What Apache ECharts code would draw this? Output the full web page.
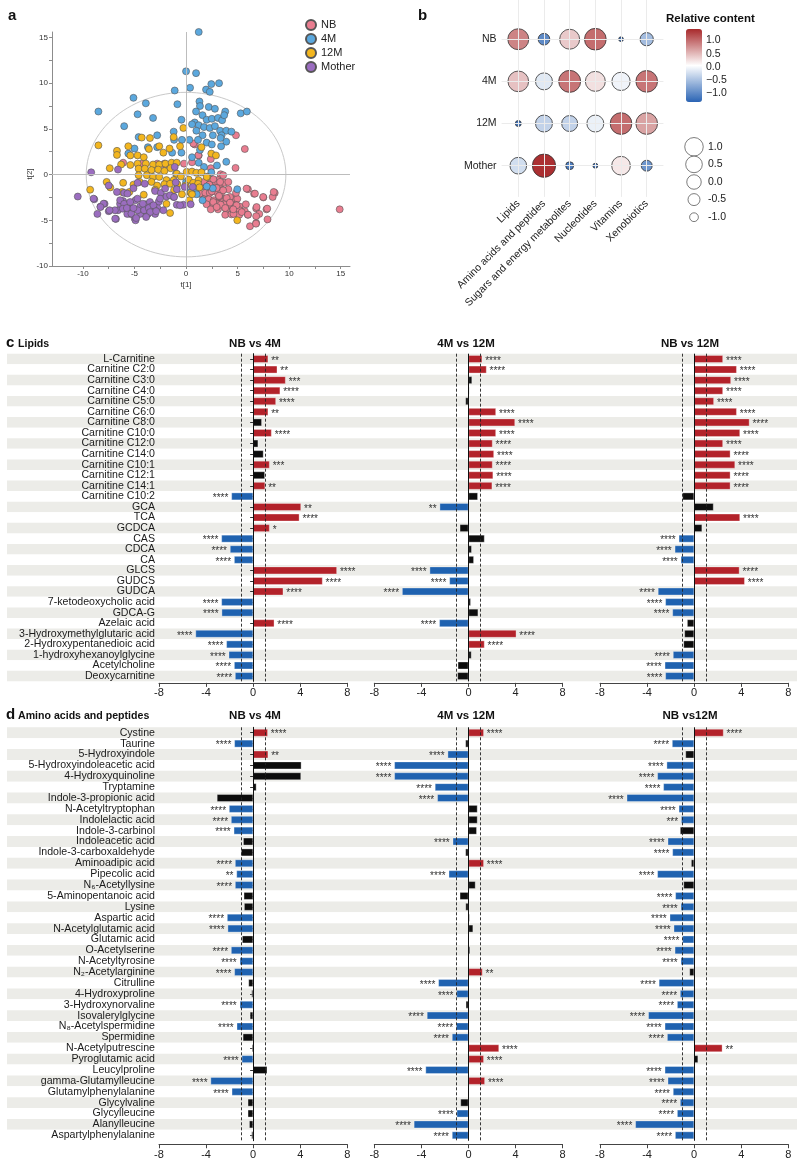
<!DOCTYPE html>
<html><head><meta charset="utf-8">
<script src="https://cdn.jsdelivr.net/npm/echarts@6/dist/echarts.min.js"></script>
<style>html,body{margin:0;padding:0;background:#fff}#c{width:800px;height:1163px}</style>
</head><body><div id="c"></div>
<script>
// ================= DATA =================
// Panel a: PCA scores (t[1], t[2])
const pcaNB = [[4.84,4.3],[5.7,2.8],[4.8,0.73],[0.84,3.3],[1.23,2.1],[2.4,1.7],[2.4,0.7],[3.35,0.04],[3.6,-0.07],[-6.1,1.3],[-4.3,1.2],[-2.1,1.2],[-0.2,1.2],[0.58,1.35],[2.5,-0.6],[3.1,-0.6],[2.8,-1.0],[3.3,-1.2],[3.7,-0.9],[2.2,-1.1],[1.9,-1.4],[2.8,-1.4],[3.5,-1.7],[1.35,-2.1],[1.87,-2.0],[2.3,-2.0],[2.9,-1.9],[3.4,-2.0],[6.0,-1.6],[6.6,-2.1],[7.5,-2.5],[8.6,-2.0],[8.4,-2.45],[1.7,-2.7],[2.2,-2.7],[2.7,-2.8],[3.3,-2.7],[3.9,-2.65],[4.45,-2.7],[4.97,-2.65],[2.0,-3.25],[2.65,-3.25],[3.2,-3.2],[3.7,-3.25],[4.26,-3.4],[4.8,-3.3],[5.2,-3.5],[2.4,-3.8],[3.1,-3.8],[3.9,-3.8],[4.6,-3.8],[5.2,-3.9],[5.7,-4.0],[6.8,-3.7],[7.1,-4.3],[7.8,-3.8],[3.8,-4.4],[4.4,-4.35],[5.16,-4.4],[6.0,-4.4],[6.8,-4.55],[7.9,-4.9],[6.2,-5.65],[6.8,-5.3],[14.9,-3.8],[-2.06,1.1],[-1.2,1.1],[-2.8,1.2],[4.26,-2.45],[4.84,-2.0],[1.35,-1.35],[1.74,-0.8],[4.1,-1.6],[4.6,-4.3],[3.2,-2.4],[5.8,-3.25],[2.64,-0.51],[3.3,-0.8],[2.26,-1.1],[2.97,-1.47],[3.6,-1.72],[2.5,-1.83],[3.2,-2.34],[3.94,-2.56],[2.64,-3.0],[3.36,-3.29],[4.26,-3.07],[4.9,-3.36],[4.58,-3.8],[3.8,-3.66],[2.97,-3.55],[5.4,-4.1],[6.0,-4.38],[6.84,-3.55],[7.48,-2.45],[8.5,-1.9],[7.87,-3.72],[6.78,-5.37],[4.1,-0.8],[5.87,-1.53],[6.68,-2.08],[0.71,3.4],[1.19,2.11]];
const pca4M = [[1.23,15.6],[0,11.3],[0.97,11.1],[2.45,9.9],[3.2,10.0],[0.39,9.5],[1.94,9.3],[2.3,9.05],[-1.1,9.2],[-5.1,8.4],[-8.5,6.9],[-3.9,7.8],[-0.84,7.7],[-4.7,6.6],[-3.2,6.2],[-6.0,5.3],[1.3,8.0],[1.35,7.5],[2.2,7.4],[2.8,7.2],[3.8,6.9],[5.3,6.7],[5.9,6.9],[0.97,6.9],[1.6,6.5],[2.0,6.0],[2.5,6.1],[3.1,6.2],[3.5,5.95],[3.7,6.5],[-0.45,6.0],[0.84,5.7],[1.23,5.4],[1.74,5.2],[2.3,5.1],[2.8,5.3],[3.3,4.8],[3.9,4.8],[4.4,4.7],[0.58,5.5],[1.0,4.8],[1.6,4.3],[2.6,4.3],[3.45,4.3],[3.9,3.6],[3.35,4.0],[-1.2,4.7],[-1.16,3.8],[-2.8,4.3],[-4.6,4.1],[-0.4,3.8],[0.32,3.8],[1.16,3.8],[2.0,3.5],[2.5,3.3],[3.4,3.1],[1.35,2.7],[0.58,1.9],[1.23,1.3],[3.0,1.0],[3.9,1.4],[1.74,0.84],[-0.45,2.4],[-1.35,2.4],[-2.8,3.0],[-3.7,3.0],[-5.0,2.85],[-5.6,2.3],[2.45,0.25],[2.6,-1.5],[4.97,-1.6],[0,-0.8],[0.39,-1.9],[0.9,-2.0],[-0.97,0.1],[1.6,-2.8],[1.03,-2.15],[2.0,-1.3]];
const pca12M = [[-0.26,5.1],[-1.2,4.1],[-3.5,4.0],[-2.6,3.1],[-4.3,4.05],[-5.6,3.1],[-8.5,3.2],[-6.7,2.6],[-6.7,2.15],[-5.4,2.1],[-4.7,2.1],[-4.1,1.9],[-3.6,2.8],[-2.2,2.4],[-1.6,2.85],[-0.58,3.1],[1.5,3.0],[2.45,2.3],[2.9,2.1],[-6.3,1.1],[-5.4,1.05],[-4.7,1.2],[-3.9,1.2],[-3.2,1.1],[-2.6,1.1],[-2.0,1.2],[-1.4,1.3],[-0.9,1.3],[-7.4,0.7],[-4.6,0.65],[-4.0,0.65],[-3.35,0.5],[-2.7,0.55],[-2.1,0.4],[-1.5,0.7],[-0.9,0.1],[0.06,0.3],[0.58,0.33],[1.0,0.2],[1.5,0.25],[2.06,-0.25],[-4.6,-0.07],[-3.8,-0.07],[-3.2,-0.25],[-2.6,-0.25],[-1.9,-0.6],[-1.2,-0.6],[-0.5,-0.2],[0.26,-0.55],[1.2,-0.6],[-6.1,-0.9],[-5.1,-1.1],[-4.5,-0.8],[-3.35,-0.8],[-2.8,-1.2],[-2.1,-1.05],[-1.55,-1.0],[-0.84,-1.05],[-0.06,-1.2],[0.7,-0.9],[1.16,-1.0],[-9.3,-1.65],[-7.7,-0.8],[-7.35,-1.4],[-6.2,-1.9],[-5.5,-1.9],[-4.1,-2.2],[-3.0,-1.65],[-1.16,-1.7],[-0.4,-2.15],[0.45,-2.0],[-1.9,-3.2],[-1.55,-4.2],[0.32,-2.8],[4.97,-5.0],[2.0,-0.25],[0.58,-2.15],[1.3,-1.4]];
const pcaMother = [[-10.5,-2.4],[-9.2,0.25],[-8.9,-2.7],[-8.3,-3.5],[-7.9,-3.2],[-7.5,-4.0],[-6.8,-4.85],[-6.6,-3.9],[-7.5,-1.2],[-6.6,0.55],[-6.0,-2.0],[-6.4,-3.2],[-6.1,-2.9],[-5.7,-3.6],[-5.4,-4.3],[-4.97,-4.8],[-4.45,-4.3],[-4.9,-2.8],[-5.2,-3.7],[-4.45,-3.5],[-3.9,-3.25],[-3.98,-3.9],[-3.5,-3.0],[-3.4,-3.5],[-3.0,-4.3],[-2.8,-3.6],[-2.2,-3.9],[-3.1,-3.8],[-3.7,-4.3],[-5.1,-1.5],[-4.7,-0.9],[-3.0,-1.8],[-2.45,-2.0],[-1.9,-2.4],[-1.0,-0.85],[-1.2,-2.45],[-0.9,-3.3],[-0.26,-3.3],[0.45,-3.25],[0.65,-1.35],[-4.9,-5.0],[-3.8,-3.75],[-2.64,-2.95],[-1.1,0.84],[-0.13,-1.35],[-8.6,-4.3],[-4.0,-1.0],[-5.7,-4.3],[-6.9,-3.9],[-4.7,-3.9],[-6.39,-2.8],[-6.0,-3.2],[-6.13,-3.73],[-5.74,-3.66],[-5.3,-4.27],[-4.84,-4.75],[-4.07,-3.9],[-3.61,-3.66],[-3.16,-3.36],[-3.48,-4.1],[-2.9,-4.0],[-3.87,-4.64],[-5.1,-3.66],[-5.42,-3.0],[-4.71,-2.63],[-4.19,-3.18],[-2.03,-1.53],[-1.55,-2.27],[-1.16,-2.45],[-0.9,-1.6],[-0.58,-3.36],[-2.52,-2.63],[-6.7,-1.9],[-5.68,-2.08],[-8.0,-3.18],[-8.3,-3.55],[-8.97,-2.63],[-6.87,-4.82],[-7.42,-3.9]];
const ellipseRadii = [9.68, 9.0];
const pcaXTicks = [-10,-5,0,5,10,15];
const pcaYTicks = [-10,-5,0,5,10,15];

// Panel b: bubble
const bubbleGroups = ['NB','4M','12M','Mother'];
const bubbleClasses = ['Lipids','Amino acids and peptides','Sugars and energy metabolites','Nucleotides','Vitamins','Xenobiotics'];
const bubbleColorVals = [
  [0.85,-1.0,0.4,1.0,-1.2,-0.55],
  [0.45,-0.15,0.95,0.25,-0.05,0.95],
  [-1.2,-0.35,-0.35,-0.08,1.0,0.65],
  [-0.25,1.4,-1.1,-1.2,0.2,-0.9]
];
const bubbleSizeVals = [
  [1.74,-0.55,1.43,1.96,-1.41,-0.25],
  [1.64,0.59,2.06,1.43,0.94,1.96],
  [-1.31,0.59,0.35,0.59,1.96,1.96],
  [0.52,2.5,-1.1,-1.39,1.05,-0.67]
];
const colorTicks = [1.0,0.5,0.0,-0.5,-1.0];
const sizeLegendVals = [1.0,0.5,0.0,-0.5,-1.0];

// Panel c: Lipids (log2 fold change)
const lipidLabels = ['L-Carnitine','Carnitine C2:0','Carnitine C3:0','Carnitine C4:0','Carnitine C5:0','Carnitine C6:0','Carnitine C8:0','Carnitine C10:0','Carnitine C12:0','Carnitine C14:0','Carnitine C10:1','Carnitine C12:1','Carnitine C14:1','Carnitine C10:2','GCA','TCA','GCDCA','CAS','CDCA','CA','GLCS','GUDCS','GUDCA','7-ketodeoxycholic acid','GDCA-G','Azelaic acid','3-Hydroxymethylglutaric acid','2-Hydroxypentanedioic acid','1-hydroxyhexanoylglycine','Acetylcholine','Deoxycarnitine'];
const lipidNB4M = [1.28,2.05,2.76,2.3,1.94,1.28,0.74,1.57,0.43,0.88,1.4,1.0,1.02,-1.85,4.07,3.93,1.4,-2.7,-1.97,-1.62,7.12,5.9,2.56,-2.7,-2.68,1.8,-4.9,-2.28,-2.08,-1.62,-1.54];
const lipidNB4MSig = ['**','**','***','****','****','**','','****','','','***','','**','****','**','****','*','****','****','****','****','****','****','****','****','****','****','****','****','****','****'];
const lipid4M12M = [1.17,1.54,0.31,0.08,-0.26,2.34,3.96,2.34,2.05,2.17,2.05,2.1,2.02,0.8,-2.45,0.05,-0.74,1.37,0.28,0.46,-3.3,-1.62,-5.64,0.2,0.83,-2.48,4.07,1.37,0.26,-0.91,-0.94];
const lipid4M12MSig = ['****','****','','','','****','****','****','****','****','****','****','****','','**','','','','','','****','****','****','','','****','****','****','','',''];
const lipidNB12M = [2.45,3.62,3.13,2.45,1.68,3.62,4.7,3.9,2.45,3.08,3.48,3.08,3.08,-1.0,1.65,3.9,0.68,-1.31,-1.65,-1.14,3.85,4.3,-3.08,-2.45,-1.85,-0.6,-0.83,-0.91,-1.8,-2.5,-2.45];
const lipidNB12MSig = ['****','****','****','****','****','****','****','****','****','****','****','****','****','','','****','','****','****','****','****','****','****','****','****','','','','****','****','****'];

// Panel d: Amino acids and peptides
const aminoLabels = ['Cystine','Taurine','5-Hydroxyindole','5-Hydroxyindoleacetic acid','4-Hydroxyquinoline','Tryptamine','Indole-3-propionic acid','N-Acetyltryptophan','Indolelactic acid','Indole-3-carbinol','Indoleacetic acid','Indole-3-carboxaldehyde','Aminoadipic acid','Pipecolic acid','N\u2086-Acetyllysine','5-Aminopentanoic acid','Lysine','Aspartic acid','N-Acetylglutamic acid','Glutamic acid','O-Acetylserine','N-Acetyltyrosine','N\u2082-Acetylarginine','Citrulline','4-Hydroxyproline','3-Hydroxynorvaline','Isovalerylglycine','N\u2088-Acetylspermidine','Spermidine','N-Acetylputrescine','Pyroglutamic acid','Leucylproline','gamma-Glutamylleucine','Glutamylphenylalanine','Glycylvaline','Glycylleucine','Alanylleucine','Aspartylphenylalanine'];
const aminoNB4M = [1.25,-1.6,1.28,4.1,4.07,0.28,-3.08,-2.05,-1.88,-1.65,-0.85,-1.03,-1.54,-1.42,-1.54,-0.8,-0.77,-2.22,-2.17,-0.94,-1.88,-1.14,-1.6,-0.4,-0.14,-1.14,-0.28,-1.4,-0.88,-0.11,-0.97,1.2,-3.62,-1.82,-0.46,-0.46,-0.34,-0.14];
const aminoNB4MSig = ['****','****','**','','','','','****','****','****','','','****','**','****','','','****','****','','****','****','****','','','****','','****','','','****','','****','****','','','',''];
const amino4M12M = [1.31,-0.26,-1.77,-6.3,-6.3,-2.85,-2.65,0.77,0.77,0.71,-1.34,-0.26,1.31,-1.68,0.6,-0.74,-0.25,0.1,0.4,0.03,0.14,0.02,1.2,-2.56,-1.02,-0.23,-3.53,-1.05,-1.4,2.6,1.31,-3.65,1.4,0.02,-0.68,-1.0,-4.64,-1.4];
const amino4M12MSig = ['****','','****','****','****','****','****','','','','****','','****','****','','','','','','','','','**','****','****','','****','****','****','****','****','****','****','','','****','****','****'];
const aminoNB12M = [2.5,-1.88,-0.74,-2.34,-3.13,-2.62,-5.73,-1.31,-1.11,-1.2,-2.25,-1.85,-0.26,-3.13,-0.91,-1.6,-1.14,-2.08,-1.74,-1.0,-1.65,-1.14,-0.4,-3.0,-1.2,-1.45,-3.9,-2.5,-2.3,2.4,0.34,-2.5,-2.25,-1.8,-1.2,-1.45,-5.0,-1.62];
const aminoNB12MSig = ['****','****','','****','****','****','****','****','***','','****','****','','****','','****','****','****','****','****','****','****','','****','****','****','****','****','****','**','','****','****','****','****','****','****','****'];

const barTicks = [-8,-4,0,4,8];
const foldThreshold = [-1, 1];

// ================= STYLE / LAYOUT =================
const FONT = "'Liberation Sans', Arial, Helvetica, sans-serif";
const RED = '#B3222A', BLUE = '#1F62B0', BLACK = '#0d0d0d';
const GROUP_COLORS = {NB:'#E97D90', '4M':'#5BA8DE', '12M':'#F3B61F', Mother:'#9B6DC0'};

const grids = [], xAxes = [], yAxes = [], series = [], graphics = [];
function addGrid(g, x, y) {
  grids.push(g); const gi = grids.length - 1;
  x.gridIndex = gi; y.gridIndex = gi; xAxes.push(x); yAxes.push(y); return gi;
}
function txt(text, x, y, size, opts) {
  opts = opts || {};
  graphics.push({type:'text', x:x, y:y, rotation: opts.rot || 0, silent:true,
    style:{text:text, fill: opts.color || '#111', font: (opts.bold ? 'bold ' : '') + size + 'px ' + FONT,
      textAlign: opts.align || 'left', textVerticalAlign:'middle'}});
}

// ---------- Panel a ----------
const ga = addGrid({left:52, top:32, width:298, height:234},
  {type:'value', min:-13, max:15.9,
   axisLine:{show:true, onZero:false, lineStyle:{color:'#8c8c8c'}},
   axisTick:{show:true, length:3, customValues:[-10,-7.5,-5,-2.5,0,2.5,5,7.5,10,12.5,15], lineStyle:{color:'#8c8c8c'}},
   axisLabel:{customValues:pcaXTicks, fontSize:8, color:'#333', margin:4},
   splitLine:{show:false}},
  {type:'value', min:-10, max:15.6,
   axisLine:{show:true, onZero:false, lineStyle:{color:'#8c8c8c'}},
   axisTick:{show:true, length:3, customValues:[-10,-7.5,-5,-2.5,0,2.5,5,7.5,10,12.5,15], lineStyle:{color:'#8c8c8c'}},
   axisLabel:{customValues:pcaYTicks, fontSize:8, color:'#333', margin:4},
   splitLine:{show:false}});
const ellipsePts = [];
for (let k = 0; k <= 120; k++) { const t = k / 120 * 2 * Math.PI; ellipsePts.push([ellipseRadii[0]*Math.cos(t), ellipseRadii[1]*Math.sin(t)]); }
series.push({type:'line', name:'ellipse', xAxisIndex:ga, yAxisIndex:ga, data:ellipsePts, showSymbol:false, symbol:'none', silent:true, z:1,
  lineStyle:{color:'#c9c9c9', width:1}});
series.push({type:'scatter', name:'cross', xAxisIndex:ga, yAxisIndex:ga, data:[], silent:true, z:1,
  markLine:{silent:true, symbol:['none','none'], label:{show:false}, lineStyle:{color:'#bdbdbd', width:1, type:'solid'},
    data:[{xAxis:0},{yAxis:0}]}});
[['NB',pcaNB],['4M',pca4M],['12M',pca12M],['Mother',pcaMother]].forEach(([n,d]) => {
  series.push({type:'scatter', name:n, xAxisIndex:ga, yAxisIndex:ga, data:d, symbolSize:7, z:3,
    itemStyle:{color:GROUP_COLORS[n], borderColor:'#555', borderWidth:0.6, opacity:1}});
});
txt('a', 8, 16, 15, {bold:true});
txt('t[1]', 186, 285, 8, {align:'center', color:'#333'});
txt('t[2]', 30, 174, 8, {align:'center', color:'#333', rot:Math.PI/2});

// ---------- Panel b ----------
function bubbleDiam(v) { return Math.sqrt(Math.max(16, 210 + 133 * v)); }
const gb = addGrid({left:501.6, top:0, width:161.8, height:196.9},
  {type:'value', min:-0.65, max:5.65, axisLine:{show:false},
   axisTick:{show:true, length:3, customValues:[0,1,2,3,4,5], lineStyle:{color:'#333'}},
   axisLabel:{customValues:[0,1,2,3,4,5], formatter:v => bubbleClasses[Math.round(v)], rotate:45, fontSize:10.5, color:'#222', margin:5},
   splitLine:{show:false}},
  {type:'value', inverse:true, min:-0.93, max:3.74, axisLine:{show:false},
   axisTick:{show:true, length:3, customValues:[0,1,2,3], lineStyle:{color:'#333'}},
   axisLabel:{customValues:[0,1,2,3], formatter:v => bubbleGroups[Math.round(v)], fontSize:10.5, color:'#222', margin:5},
   splitLine:{show:false}});
const bubbleData = [];
bubbleGroups.forEach((g, r) => bubbleClasses.forEach((c, ci) => bubbleData.push([ci, r, bubbleColorVals[r][ci], bubbleSizeVals[r][ci]])));
series.push({type:'scatter', name:'bgrid', xAxisIndex:gb, yAxisIndex:gb, data:bubbleData, symbolSize:0, silent:true, z:1,
  itemStyle:{opacity:0},
  markLine:{silent:true, symbol:['none','none'], label:{show:false}, lineStyle:{color:'#ebebeb', width:1, type:'solid'},
    data:[0,1,2,3,4,5].map(v => ({xAxis:v})).concat([0,1,2,3].map(v => ({yAxis:v})))}});
series.push({type:'scatter', name:'bubbles', xAxisIndex:gb, yAxisIndex:gb, data:bubbleData, z:3,
  symbolSize:(val) => bubbleDiam(val[3]),
  itemStyle:{borderColor:'#333', borderWidth:0.8, opacity:1}});
const bubbleSeriesIndex = series.length - 1;
txt('b', 418, 16, 15, {bold:true});
txt('Relative content', 666, 19, 11.5, {bold:true});

// colour bar tick labels
const gcb = addGrid({left:686, top:29, width:16, height:73},
  {type:'value', min:0, max:1, show:false},
  {type:'value', position:'right', min:-1.34, max:1.44, axisLine:{show:false},
   axisTick:{show:true, inside:true, length:3, customValues:colorTicks, lineStyle:{color:'#fff', width:1}},
   axisLabel:{customValues:colorTicks, formatter:v => (v < 0 ? '\u2212' + Math.abs(v).toFixed(1) : v.toFixed(1)), fontSize:10.5, color:'#222', margin:4},
   splitLine:{show:false}});
series.push({type:'scatter', name:'cbar', xAxisIndex:gcb, yAxisIndex:gcb, data:[], silent:true});

// size legend
const gsl = addGrid({left:684, top:138, width:20, height:88},
  {type:'value', min:-1, max:1, show:false},
  {type:'category', data:sizeLegendVals.map(v => v.toFixed(1)), inverse:true, position:'right',
   axisLine:{show:false}, axisTick:{show:false}, axisLabel:{fontSize:10.5, color:'#222', margin:4, interval:0}, splitLine:{show:false}});
series.push({type:'scatter', name:'sizeLegend', xAxisIndex:gsl, yAxisIndex:gsl, silent:true,
  data:sizeLegendVals.map((v, i) => [0, i, v]), symbolSize:(val) => bubbleDiam(val[2]),
  itemStyle:{color:'#fff', borderColor:'#333', borderWidth:0.8}});

// ---------- Panels c & d ----------
function barItems(vals, sigs) {
  return vals.map((v, i) => {
    const s = sigs[i];
    const col = s ? (v > 0 ? RED : BLUE) : BLACK;
    return {value:v, itemStyle:{color:col},
      label:{show:!!s, position: v >= 0 ? 'right' : 'left', formatter:s}};
  });
}
const colLefts = [159, 374.3, 600];
const colWidth = 188.3;
const panels = [
  {letter:'c', name:'Lipids', labels:lipidLabels, titles:['NB vs 4M','4M vs 12M','NB vs 12M'],
   comps:[[lipidNB4M,lipidNB4MSig],[lipid4M12M,lipid4M12MSig],[lipidNB12M,lipidNB12MSig]],
   top:353.7, rowH:10.57, titleY:343.5, axisOffset:1.5},
  {letter:'d', name:'Amino acids and peptides', labels:aminoLabels, titles:['NB vs 4M','4M vs 12M','NB vs12M'],
   comps:[[aminoNB4M,aminoNB4MSig],[amino4M12M,amino4M12MSig],[aminoNB12M,aminoNB12MSig]],
   top:727.3, rowH:10.88, titleY:716, axisOffset:3.5}
];
const titleCenters = [255, 466, 690];
panels.forEach(p => {
  const h = p.labels.length * p.rowH;
  // stripes background
  const gs = addGrid({left:7, top:p.top, width:790, height:h},
    {type:'value', min:0, max:1, show:false},
    {type:'category', data:p.labels, inverse:true, axisLine:{show:false}, axisTick:{show:false, interval:0}, axisLabel:{show:false, interval:0},
     splitLine:{show:false}, splitArea:{show:true, interval:0, areaStyle:{color:['#ECECE8','#FFFFFF']}}});
  series.push({type:'bar', name:'stripes'+p.letter, xAxisIndex:gs, yAxisIndex:gs, data:[], silent:true});
  p.comps.forEach((cmp, k) => {
    const g = addGrid({left:colLefts[k], top:p.top, width:colWidth, height:h},
      {type:'value', min:-8, max:8, interval:4, offset:p.axisOffset,
       axisLine:{show:true, onZero:false, lineStyle:{color:'#444', width:1}},
       axisTick:{show:true, length:4, lineStyle:{color:'#444'}},
       axisLabel:{fontSize:11, color:'#222', margin:5},
       splitLine:{show:false}},
      {type:'category', data:p.labels, inverse:true, show:k === 0,
       axisLine:{show:true, lineStyle:{color:'#333'}},
       axisTick:{show:true, length:3, interval:0, alignWithLabel:true, lineStyle:{color:'#333'}},
       axisLabel:{fontSize:10.6, color:'#1a1a1a', margin:4, interval:0},
       splitLine:{show:false}});
    series.push({type:'scatter', name:'ref'+p.letter+k, xAxisIndex:g, yAxisIndex:g, data:[], silent:true, z:1,
      markLine:{silent:true, symbol:['none','none'], label:{show:false},
        data:[{xAxis:foldThreshold[0], lineStyle:{color:'#222', width:0.9, type:[3,2]}},
              {xAxis:foldThreshold[1], lineStyle:{color:'#222', width:0.9, type:[3,2]}}]}});
    series.push({type:'bar', name:'bar'+p.letter+k, xAxisIndex:g, yAxisIndex:g, data:barItems(cmp[0], cmp[1]),
      barWidth:7.6, z:3, silent:true,
      itemStyle:{borderColor:'rgba(255,255,255,0.55)', borderWidth:0.6},
      label:{fontSize:10, color:'#333', distance:3, offset:[0,2], fontFamily:FONT},
      markLine:{silent:true, symbol:['none','none'], label:{show:false}, z:4,
        data:[{xAxis:0, lineStyle:{color:'#111', width:1, type:'solid'}}]}});
    txt(p.titles[k], titleCenters[k], p.titleY, 11.5, {bold:true, align:'center'});
  });
  txt(p.letter, 6, p.titleY - 1, 15, {bold:true});
  txt(p.name, 18, p.titleY + 0.5, 10.6, {bold:true});
});

const option = {
  animation:false,
  backgroundColor:'#ffffff',
  textStyle:{fontFamily:FONT},
  grid:grids, xAxis:xAxes, yAxis:yAxes, series:series, graphic:graphics,
  legend:{data:['NB','4M','12M','Mother'], orient:'vertical', left:305, top:19, padding:0,
    itemWidth:10, itemHeight:10, itemGap:2, icon:'circle', textStyle:{fontSize:11, color:'#222'}},
  visualMap:[{type:'continuous', seriesIndex:bubbleSeriesIndex, dimension:2, min:-1.34, max:1.44,
    inRange:{color:['#2A64B4','#FFFFFF','#A8292B']}, calculable:false, show:true,
    left:686, top:29, itemWidth:16, itemHeight:73, padding:0, text:null}]
};
const chart = echarts.init(document.getElementById('c'), null, {renderer:'canvas'});
chart.setOption(option);
</script></body></html>
